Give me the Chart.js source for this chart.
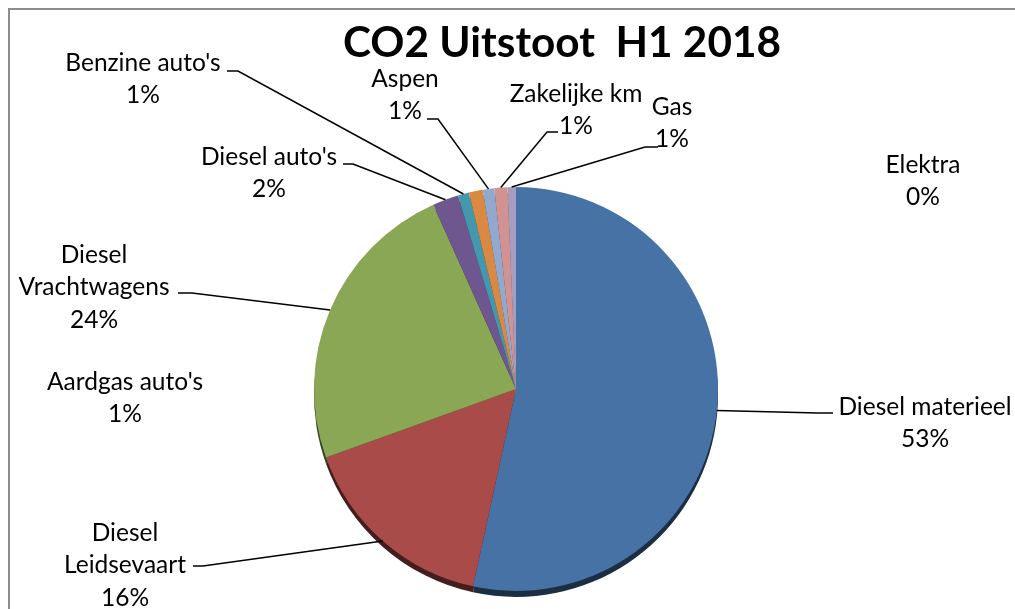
<!DOCTYPE html>
<html>
<head>
<meta charset="utf-8">
<script src="https://cdn.jsdelivr.net/npm/chart.js@4/dist/chart.umd.min.js"></script>
<style>
  html, body { margin: 0; padding: 0; background: #fff; }
  #wrap { position: relative; width: 1015px; height: 609px; overflow: hidden; }
  #frame { position: absolute; left: 8px; top: 8px; width: 1100px; height: 700px;
           border-left: 2px solid #8c8c8c; border-top: 2px solid #8c8c8c; }
  canvas { position: absolute; left: 0; top: 0; }
</style>
</head>
<body>
<div id="wrap">
  <div id="frame"></div>
  <canvas id="co2Chart" width="1015" height="609"></canvas>
</div>
<script>
// data (share of CO2, percent)
const categories = ["Diesel materieel", "Diesel Leidsevaart", "Diesel Vrachtwagens", "Diesel auto's",
  "Benzine auto's", "Aardgas auto's", "Aspen", "Zakelijke km", "Gas", "Elektra"];
const values = [53.45, 16.1, 23.8, 2.08, 0.89, 1.11, 0.92, 1.04, 0.68, 0];
const colors = ['#4672A6', '#A84B49', '#8AA755', '#6E568F', '#4398AE',
  '#DA8943', '#92A9CF', '#D19392', '#A69CC0', '#4F81BD'];
const chartTitle = 'CO2 Uitstoot  H1 2018';

// where each data label sits (centre of first text line) and its leader line start
const labelLayout = [
  { lines: ['Diesel materieel'], x: 925, y: 407, leader: [833, 413, 818] },
  { lines: ['Diesel', 'Leidsevaart'], x: 125, y: 533, leader: [193, 566, 203] },
  { lines: ['Diesel', 'Vrachtwagens'], x: 94, y: 255, leader: [178, 293, 192] },
  { lines: ["Diesel auto's"], x: 269, y: 157, leader: [343, 164, 353] },
  { lines: ["Benzine auto's"], x: 143, y: 63, leader: [227, 71, 238] },
  { lines: ["Aardgas auto's"], x: 125, y: 382, leader: null },
  { lines: ['Aspen'], x: 405, y: 79, leader: [427, 119, 438] },
  { lines: ['Zakelijke km'], x: 576, y: 94, leader: [558, 132, 547] },
  { lines: ['Gas'], x: 672, y: 107, leader: [658, 147, 645] },
  { lines: ['Elektra'], x: 923, y: 165, leader: null }
];

function darken(hex, f) {
  const n = parseInt(hex.slice(1), 16);
  const r = Math.round(((n >> 16) & 255) * f), g = Math.round(((n >> 8) & 255) * f), b = Math.round((n & 255) * f);
  return 'rgb(' + r + ',' + g + ',' + b + ')';
}

// thin 3D side under the pie
const depthPlugin = {
  id: 'depth',
  beforeDatasetsDraw(chart) {
    const ctx = chart.ctx;
    const meta = chart.getDatasetMeta(0);
    meta.data.forEach((arc, i) => {
      const p = arc.getProps(['x', 'y', 'startAngle', 'endAngle', 'outerRadius']);
      if (p.endAngle - p.startAngle <= 0) return;
      ctx.save();
      ctx.fillStyle = darken(colors[i], 0.4);
      ctx.beginPath();
      ctx.moveTo(p.x, p.y + 6);
      ctx.arc(p.x, p.y + 6, p.outerRadius, p.startAngle, p.endAngle);
      ctx.closePath();
      ctx.fill();
      ctx.restore();
    });
  }
};

const labelPlugin = {
  id: 'pieLabels',
  afterDraw(chart) {
    const ctx = chart.ctx;
    const meta = chart.getDatasetMeta(0);
    const total = values.reduce((a, b) => a + b, 0);
    ctx.save();

    // title
    ctx.font = 'bold 40px Lato';
    let tw = ctx.measureText(chartTitle).width;
    let ts = 40 * 438 / tw;
    ctx.font = 'bold ' + ts.toFixed(1) + 'px Lato';
    ctx.fillStyle = '#000';
    ctx.textAlign = 'center';
    ctx.textBaseline = 'middle';
    ctx.fillText(chartTitle, 562, 43);

    ctx.font = '22px Lato';
    let fs = 22 * 173 / ctx.measureText('Diesel materieel').width;
    ctx.font = fs.toFixed(1) + 'px Lato';
    const lineH = 32.5;

    categories.forEach((name, i) => {
      const lay = labelLayout[i];
      const pct = Math.round(values[i] / total * 100) + '%';
      const lines = lay.lines.concat([pct]);
      lines.forEach((t, k) => ctx.fillText(t, lay.x, lay.y + k * lineH));

      if (lay.leader) {
        const p = meta.data[i].getProps(['x', 'y', 'startAngle', 'endAngle', 'outerRadius']);
        const mid = (p.startAngle + p.endAngle) / 2;
        const ex = p.x + p.outerRadius * Math.cos(mid);
        const ey = p.y + p.outerRadius * Math.sin(mid);
        const [sx, sy, hx] = lay.leader;
        ctx.strokeStyle = '#000';
        ctx.lineWidth = 1.5;
        ctx.beginPath();
        ctx.moveTo(sx, sy);
        ctx.lineTo(hx, sy);
        ctx.lineTo(ex, ey);
        ctx.stroke();
      }
    });
    ctx.restore();
  }
};

const ctx = document.getElementById('co2Chart').getContext('2d');
const co2Chart = new Chart(ctx, {
  type: 'pie',
  data: {
    labels: categories,
    datasets: [{
      data: values,
      backgroundColor: colors,
      borderWidth: 0
    }]
  },
  options: {
    responsive: false,
    animation: false,
    layout: { padding: { left: 314, right: 297, top: 187, bottom: 18 } },
    plugins: {
      legend: { display: false },
      title: { display: false },
      tooltip: { enabled: false }
    }
  },
  plugins: [depthPlugin, labelPlugin]
});
</script>
</body>
</html>
